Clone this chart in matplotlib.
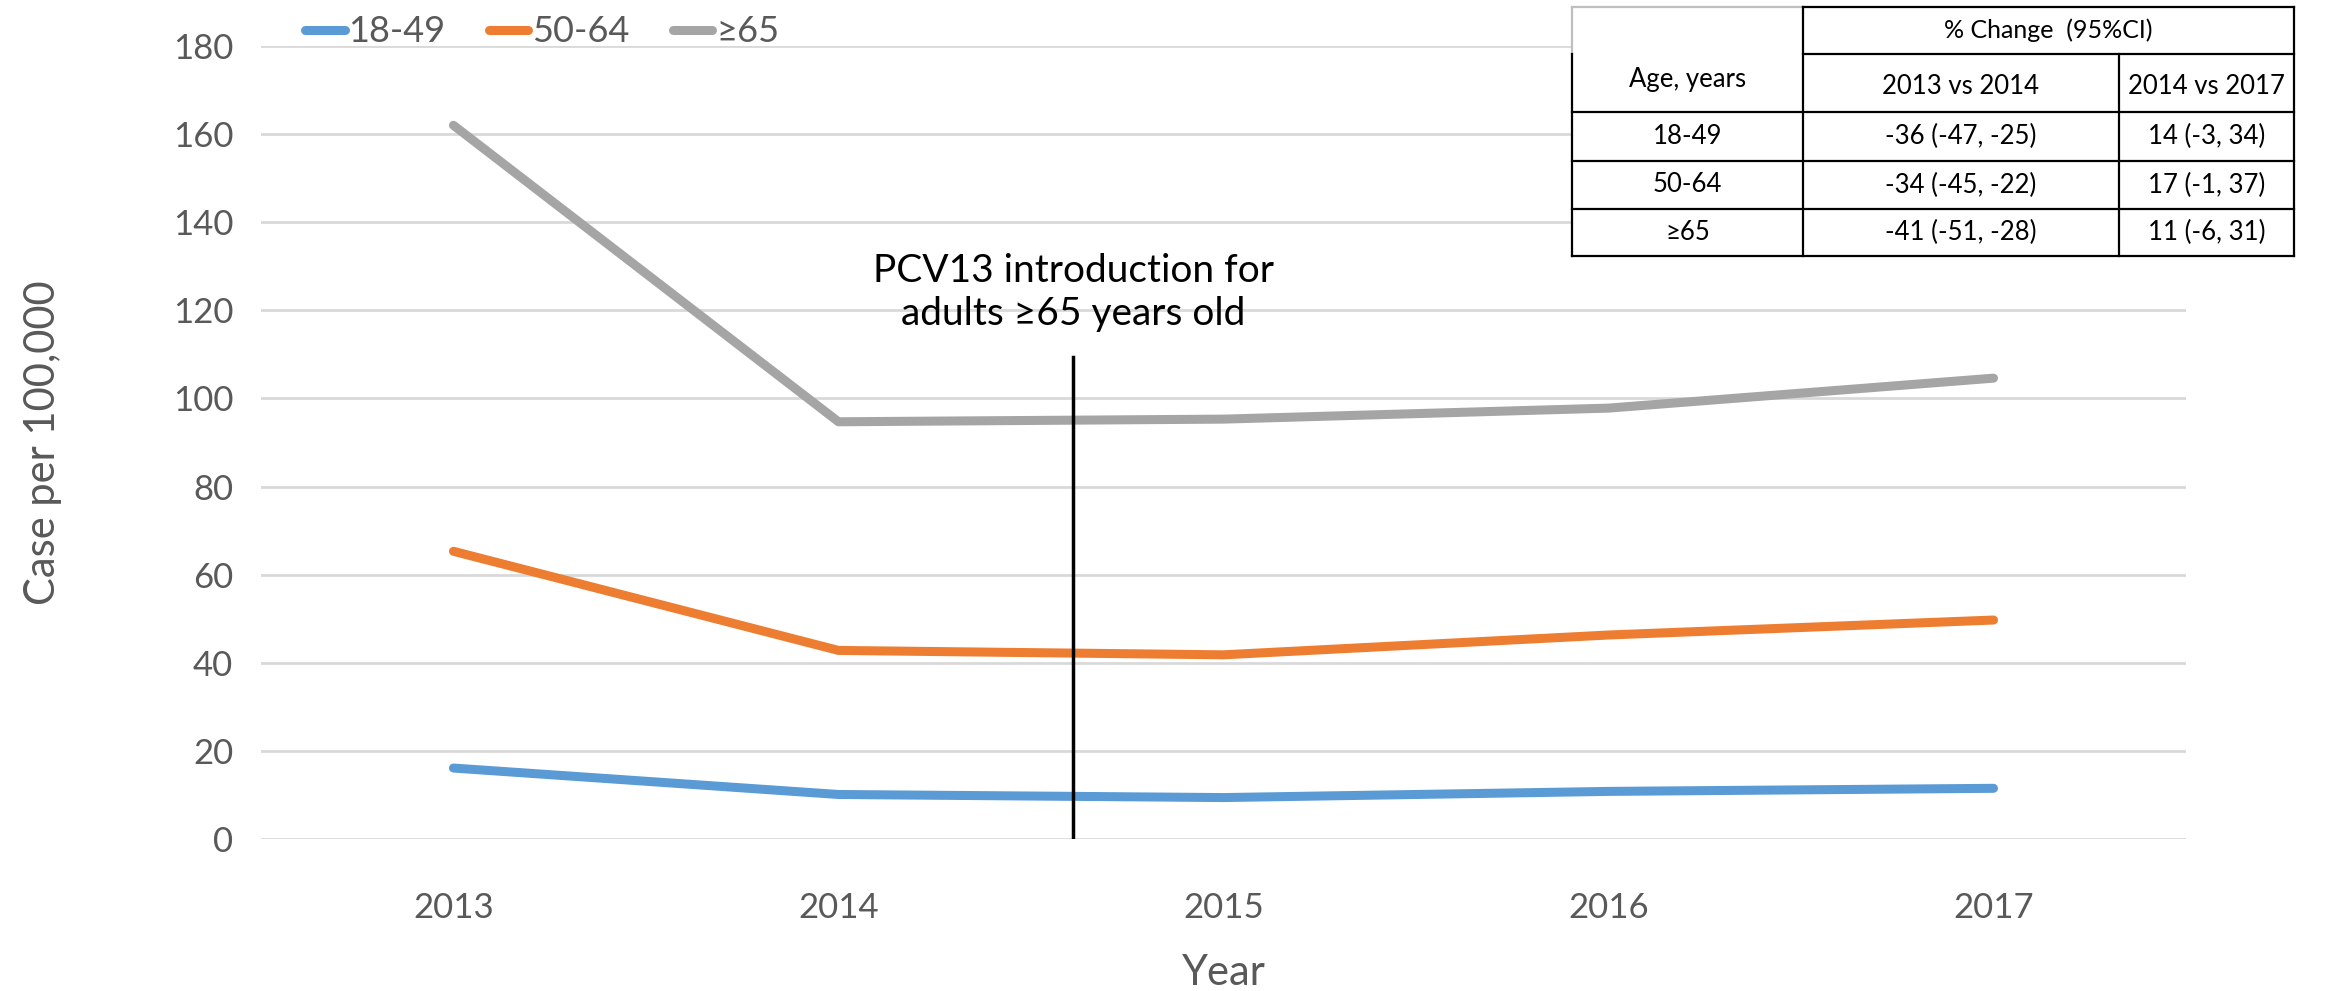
import matplotlib.pyplot as plt

plt.rcParams['font.family'] = ['Lato', 'DejaVu Sans']

years = ['2013', '2014', '2015', '2016', '2017']
age_groups = ['18-49', '50-64', '≥65']
rate_18_49 = [16.1, 10.1, 9.4, 10.8, 11.5]
rate_50_64 = [65.3, 42.8, 41.8, 46.3, 49.7]
rate_65 = [162.0, 94.7, 95.3, 97.8, 104.6]
colors = ['#5B9BD5', '#ED7D31', '#A5A5A5']

# PCV13 marker position (between 2014 and 2015) and its span
pcv_x = 1.61
pcv_y = [0.5, 109.5]

table_header = ['Age, years', '2013 vs 2014', '2014 vs 2017']
table_rows = [['18-49', '-36 (-47, -25)', '14 (-3, 34)'],
              ['50-64', '-34 (-45, -22)', '17 (-1, 37)'],
              ['≥65', '-41 (-51, -28)', '11 (-6, 31)']]

fig = plt.figure(figsize=(23.36, 9.91), dpi=100)
ax = fig.add_axes([0.1117, 0.1534, 0.8241, 0.8002])

x = range(len(years))
for vals, lab, c in zip([rate_18_49, rate_50_64, rate_65], age_groups, colors):
    ax.plot(x, vals, color=c, linewidth=6.5, label=lab, solid_capstyle='round')

ax.plot([pcv_x, pcv_x], pcv_y, color='black', linewidth=2.5)
ax.text(pcv_x, 115, 'PCV13 introduction for\nadults ≥65 years old',
        ha='center', va='bottom', fontsize=28, color='black', linespacing=1.25)

ax.set_xlim(-0.5, 4.5)
ax.set_ylim(0, 180)
ax.set_yticks(range(0, 181, 20))
ax.set_xticks(list(x))
ax.set_xticklabels(years)
ax.grid(axis='y', color='#D9D9D9', linewidth=2)
ax.set_axisbelow(True)
for s in ax.spines.values():
    s.set_visible(False)
ax.tick_params(length=0, labelsize=25, labelcolor='#595959', pad=20)
ax.tick_params(axis='x', pad=38)
ax.set_ylabel('Case per 100,000', fontsize=30, color='#595959', labelpad=80)
ax.set_xlabel('Year', fontsize=30, color='#595959', labelpad=22)

fig.legend(loc='center', bbox_to_anchor=(0.232, 0.968), ncol=3, frameon=False,
           fontsize=26, handlelength=1.1, handletextpad=0.1, columnspacing=1.2,
           labelcolor='#595959')

# table in the top right corner, drawn in figure pixels
tx = [1572, 1803, 2119, 2294]
ty = [7, 54, 112, 161, 209, 256]
W, H = 2336.0, 991.0
tab = fig.add_axes([0, 0, 1, 1], facecolor='none')
tab.set_xlim(0, W)
tab.set_ylim(H, 0)
tab.axis('off')
tab.fill_between([tx[0], tx[3]], ty[0], ty[5], color='white', zorder=0)
lw = 1.6
tab.plot([tx[0], tx[1]], [ty[0], ty[0]], color='#BFBFBF', lw=lw)
tab.plot([tx[0], tx[0]], [ty[0], ty[1]], color='#BFBFBF', lw=lw)
tab.plot([tx[1], tx[3]], [ty[0], ty[0]], color='black', lw=lw)
tab.plot([tx[0], tx[0]], [ty[1], ty[5]], color='black', lw=lw)
tab.plot([tx[1], tx[1]], [ty[0], ty[5]], color='black', lw=lw)
tab.plot([tx[3], tx[3]], [ty[0], ty[5]], color='black', lw=lw)
tab.plot([tx[2], tx[2]], [ty[1], ty[5]], color='black', lw=lw)
tab.plot([tx[1], tx[3]], [ty[1], ty[1]], color='black', lw=lw)
for yy in ty[2:]:
    tab.plot([tx[0], tx[3]], [yy, yy], color='black', lw=lw)
tab.text((tx[1] + tx[3]) / 2, (ty[0] + ty[1]) / 2, '% Change  (95%CI)',
         ha='center', va='center', fontsize=18)
for j, h in enumerate(table_header):
    tab.text((tx[j] + tx[j + 1]) / 2, (ty[1] + ty[2]) / 2 + (-3 if j == 0 else 4), h,
             ha='center', va='center', fontsize=18.5)
for i, row in enumerate(table_rows):
    for j, cell in enumerate(row):
        tab.text((tx[j] + tx[j + 1]) / 2, (ty[i + 2] + ty[i + 3]) / 2, cell,
                 ha='center', va='center', fontsize=18.5)

fig.savefig('out.png', dpi=100)
